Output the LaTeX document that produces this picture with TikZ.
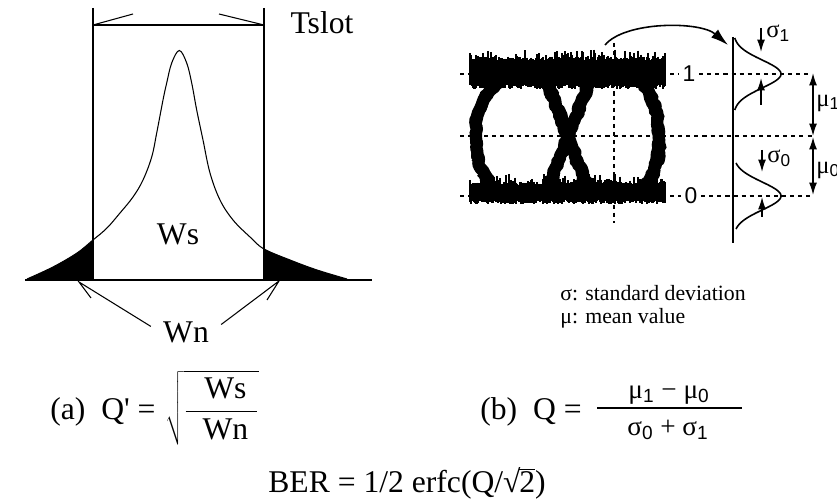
\documentclass[tikz,border=0pt]{standalone}
\usepackage{fontspec}
\setmainfont{Liberation Serif}
\setsansfont{Liberation Sans}
\usetikzlibrary{arrows.meta, decorations.pathmorphing}
\newcommand\lo[1]{\textsubscript{\sffamily #1}}
\newcommand\rtwo{√\kern-0.04em\rlap{\rule[0.69em]{0.5em}{0.045em}}2}

\begin{document}
\begin{tikzpicture}[x=0.02cm, y=-0.02cm,
    lbl/.style={font=\fontsize{18}{20}\selectfont, inner sep=0pt},
    note/.style={font=\fontsize{12.4}{15}\selectfont, inner sep=0pt, anchor=west},
    frc/.style={font=\fontsize{15.5}{17}\selectfont, inner sep=0pt},
    tk/.style={font=\sffamily\fontsize{13}{15}\selectfont, inner sep=2pt},
    gk/.style={font=\fontsize{14}{16}\selectfont, inner sep=0pt, anchor=west},
    ln/.style={line width=0.6pt},
    dot/.style={line width=0.7pt, dash pattern=on 2.3pt off 2.3pt},
    nz/.style={line width=0.8pt},
    eye/.style 2 args={line width=#1, line join=round, line cap=round, decorate,
      decoration={random steps, segment length=2pt, amplitude=#2}},
    gl/.style={line width=0.9pt},
    sig/.style={-{Latex[length=7pt,width=4.5pt]}, line width=0.8pt},
    dbl/.style={{Latex[length=7pt,width=4.5pt]}-{Latex[length=7pt,width=4.5pt]}, line width=0.8pt}]
\useasboundingbox (0,0) rectangle (837,502);

% (a) pulse inside the slot
\draw[ln] (93,8) -- (93,280);
\draw[ln] (264,8) -- (264,280);
\draw[ln] (93,25) -- (264,25);
\draw[ln] (93,25) -- (133,14);
\draw[ln] (264,25) -- (219,14);
\draw[ln] (25,280) -- (372,280);
\fill plot[smooth] coordinates {(25,280) (53,267) (77,253) (93,240)} -- (93,280) -- cycle;
\fill plot[smooth] coordinates {(264,249) (290,260) (317,270) (350,280)} -- (264,280) -- cycle;
\draw[ln] plot[smooth, tension=0.6] coordinates {(27,279) (53,267) (77,253) (93,240) (107,228)
  (120,213) (133,197) (143,180) (151.7,157) (156.7,133) (163,100) (166.7,83) (171.7,63)
  (179.3,50.5) (186.7,63) (191.7,83) (196.7,110) (203,140) (210,173) (220,200) (233,220)
  (250,237) (264,249) (290,260) (317,270) (347,279)};
\node[lbl] (ts) at (322,23) {Tslot};
\node[lbl] (ws) at (178,234) {Ws};
\node[lbl, inner xsep=6.8pt] (wn) at (186,332) {Wn};
\coordinate (lt) at (79,282);
\coordinate (rt) at (279,281);
\draw[ln] (wn.171) -- (lt) -- (91,298);
\draw[ln] (wn.12) -- (rt) -- (267,300);
\node[lbl, anchor=base west] (qa) at (50,419)
  {(a)\ \ Q\textquotesingle{} =\hspace{0.3em}$\sqrt{\displaystyle\frac{\;\;\mbox{Ws}\;}{\;\;\mbox{Wn}\;}}$};

% (b) eye diagram
\draw[dot] (614,43) -- (614,223);
\draw[dot] (460,136) -- (813,136);
\node[tk] (l1) at (689,74) {1};
\node[tk] (l0) at (691,196) {0};
\draw[dot] (460,74) -- (l1);
\draw[dot] (l1) -- (811,74);
\draw[dot] (460,196) -- (l0);
\draw[dot] (l0) -- (811,196);
\pgfmathsetseed{42}
\foreach \i in {0,...,195}{
  \draw[nz] ({470+\i},{61-4*rnd-9*pow(rnd,4)}) -- ({470+\i},{84+5*rnd});
  \draw[nz] ({470+\i},{185-3*rnd-10*pow(rnd,4)}) -- ({470+\i},{200+4*rnd});
}
\foreach \w/\a in {7pt/0.8pt, 5pt/2pt, 2pt/3.5pt}{
  \draw[eye={\w}{\a}] (500,80) .. controls (481,97) and (476,118) .. (476,137)
    .. controls (476,158) and (481,178) .. (500,194);
  \draw[eye={\w}{\a}] (546,80) -- (590,194);
  \draw[eye={\w}{\a}] (590,80) -- (546,194);
  \draw[eye={\w}{\a}] (638,80) .. controls (655,97) and (659,118) .. (659,137)
    .. controls (659,158) and (655,178) .. (638,194);
}

% distributions of the two levels
\draw[line width=1pt] (733,37) -- (733,243);
\draw[gl] plot[domain=-36:36, samples=50] ({733+48*exp(-(\x)*(\x)/392)}, {74+\x});
\draw[gl] plot[domain=-33:33, samples=50] ({733+48*exp(-(\x)*(\x)/392)}, {196+\x});
\coordinate (ca) at (605,45);
\coordinate (cb) at (728,45);
\draw[-{Latex[length=10pt,width=6pt]}, line width=0.9pt] (ca) .. controls (625,21) and (700,21) .. (cb);
\draw[sig] (761,28) -- (761,52);
\draw[sig] (761,105) -- (761,78);
\draw[sig] (762,150) -- (762,172);
\draw[sig] (762,217) -- (762,197);
\node[gk] (s1) at (766,33) {σ\lo{1}};
\node[gk] (s0) at (767,158) {σ\lo{0}};
\draw[dbl] (813,73) -- (813,136);
\draw[dbl] (813,137) -- (813,195);
\node[gk] (m1) at (816,103) {μ\lo{1}};
\node[gk] (m0) at (816,170) {μ\lo{0}};

\node[note] (sd) at (560,293) {σ: standard deviation};
\node[note] (mv) at (560,318) {μ: mean value};

\node[lbl, anchor=base west] (qb) at (480,419) {(b)\ \ Q =};
\draw[ln] (597,408) -- (742,408);
\node[frc] (nm) at (669,395) {μ\lo{1} − μ\lo{0}};
\node[frc] (dn) at (668,430) {σ\lo{0} + σ\lo{1}};

\node[lbl, anchor=base] (ber) at (407,492) {BER = 1/2 erfc(Q/\rtwo)};
\end{tikzpicture}
\end{document}
